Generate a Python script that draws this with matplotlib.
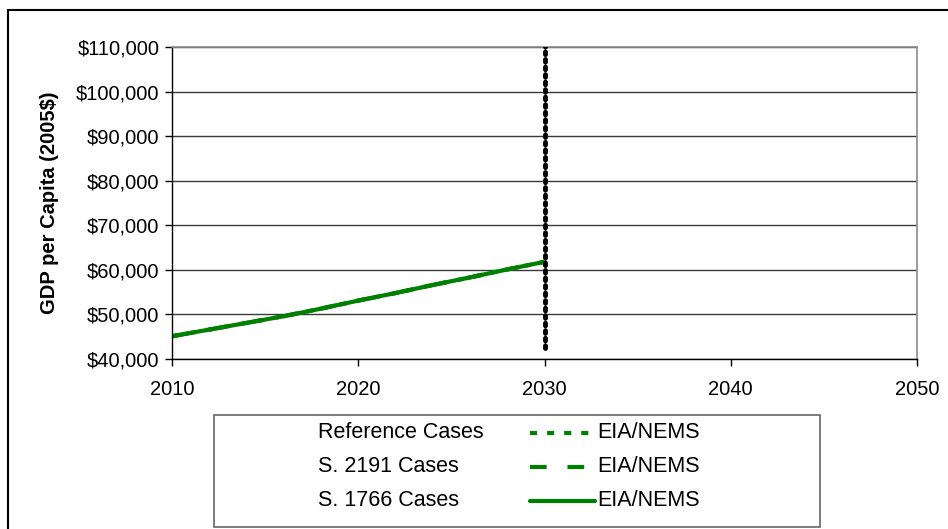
import matplotlib

matplotlib.use("Agg")

import matplotlib.pyplot as plt
from matplotlib.lines import Line2D
from matplotlib.patches import Rectangle
from matplotlib.ticker import FuncFormatter

plt.rcParams["font.family"] = ["Liberation Sans", "DejaVu Sans"]

# GDP per capita, 2005$ (all three cases overlap)
years = [2010, 2012, 2014, 2016, 2018, 2020, 2022, 2024, 2026, 2028, 2030]
reference_gdp = [45100, 46600, 48100, 49600, 51300, 53100, 54800, 56600, 58300, 60100, 61800]
s2191_gdp = [45100, 46600, 48100, 49600, 51300, 53100, 54800, 56600, 58300, 60100, 61800]
s1766_gdp = [45100, 46600, 48100, 49600, 51300, 53100, 54800, 56600, 58300, 60100, 61800]

# vertical marker at the end of the EIA/NEMS horizon
marker_year = [2030, 2030]
marker_range = [42500, 110800]

series_names = ["Reference Cases", "S. 2191 Cases", "S. 1766 Cases"]
series_styles = [(0, (1.7, 2.4)), (0, (4.0, 5.0)), "-"]
model_name = "EIA/NEMS"

x_ticks = [2010, 2020, 2030, 2040, 2050]
y_ticks = [40000, 50000, 60000, 70000, 80000, 90000, 100000, 110000]

W, H = 948, 529
fig = plt.figure(figsize=(W / 100, H / 100), dpi=100)
ax = fig.add_axes([172 / W, 1 - 359 / H, (917 - 172) / W, (359 - 47) / H])

green = "#008000"
for vals, style in zip([reference_gdp, s2191_gdp, s1766_gdp], series_styles):
    ax.plot(years, vals, color=green, lw=3, linestyle=style, solid_capstyle="butt")
ax.plot(marker_year, marker_range, color="black", lw=3.5, linestyle=(0, (0.55, 1.0)),
        dash_capstyle="round", zorder=4)

ax.set_xlim(2010, 2050)
ax.set_ylim(40000, 110000)
ax.set_xticks(x_ticks)
ax.set_yticks(y_ticks)
ax.yaxis.set_major_formatter(FuncFormatter(lambda v, p: f"${v:,.0f}"))
ax.tick_params(direction="out", length=5, width=1, labelsize=14.5, color="black")
ax.tick_params(axis="x", pad=10)
ax.tick_params(axis="y", pad=4)
ax.grid(axis="y", color="#3a3a3a", lw=1)
ax.set_axisbelow(True)
for side in ["top", "right"]:
    ax.spines[side].set_color("#8c8c8c")
    ax.spines[side].set_linewidth(1.2)
for side in ["left", "bottom"]:
    ax.spines[side].set_color("black")
    ax.spines[side].set_linewidth(1)
ax.set_ylabel("GDP per Capita (2005$)", fontsize=14.5, fontweight="bold", labelpad=12)

# outer chart frame
fig.patches.append(Rectangle((8 / W, -0.05), 1.1, 1 - 10 / H + 0.05, transform=fig.transFigure,
                             fill=False, edgecolor="black", lw=1.5, clip_on=False))

# table-style legend
fig.patches.append(Rectangle((214 / W, 1 - 527 / H), (820 - 214) / W, (527 - 415) / H,
                             transform=fig.transFigure, fill=False, edgecolor="#666666", lw=1.2))
row_y = [433, 467, 501]
for name, style, y in zip(series_names, series_styles, row_y):
    fy = 1 - y / H
    fig.text(318 / W, fy, name, fontsize=15.5, va="center", ha="left")
    fig.lines.append(Line2D([530 / W, 595 / W], [fy, fy], transform=fig.transFigure,
                            color=green, lw=3, linestyle=style, solid_capstyle="round"))
    fig.text(597 / W, fy, model_name, fontsize=15.5, va="center", ha="left")

fig.savefig("out.png", dpi=100)
